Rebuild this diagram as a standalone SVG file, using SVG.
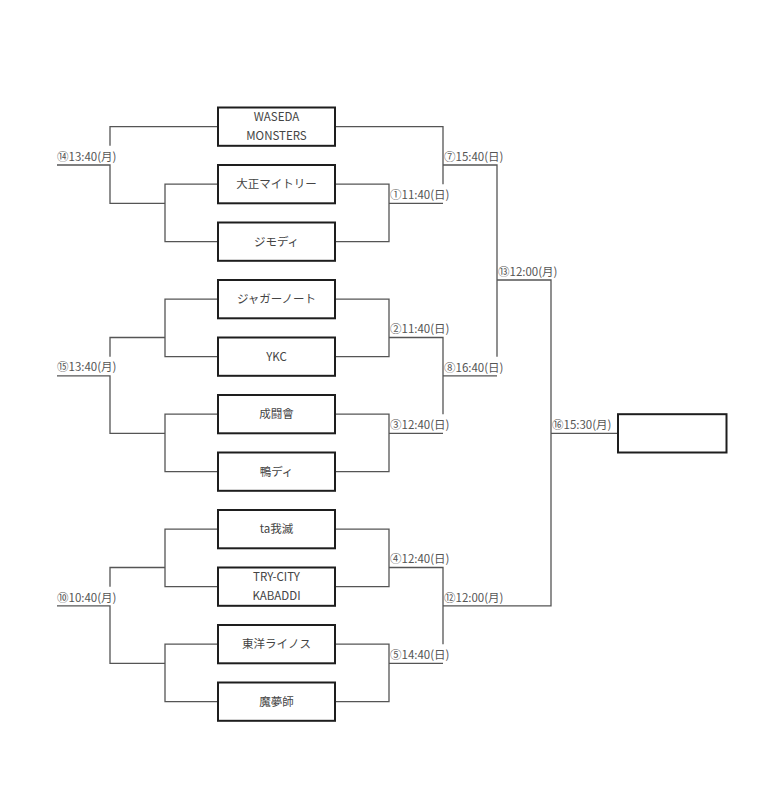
<svg xmlns="http://www.w3.org/2000/svg" width="779" height="803" viewBox="0 0 779 803">
<style>
.bg{fill:#ffffff}
.box{fill:#ffffff;stroke:#1e1e1e;stroke-width:2}
.ln{fill:none;stroke:#555555;stroke-width:1.3}
.t{font-family:"Noto Sans CJK JP","Noto Sans",sans-serif;font-size:11.5px;fill:#444444;text-anchor:middle}
.lbl{font-family:"Noto Sans CJK JP","Noto Sans",sans-serif;font-size:11.5px;fill:#555555}
</style>
<rect class="bg" x="0" y="0" width="779" height="803"/>
<g id="connectors">
<path class="ln" d="M218 126.7 H110 V145.8"/>
<path class="ln" d="M57 165 H110 V203.3 H165"/>
<path class="ln" d="M218 184.2 H165 V241.7 H218"/>
<path class="ln" d="M335 126.7 H443 V184.2"/>
<path class="ln" d="M443 165 H497 V356.7"/>
<path class="ln" d="M335 184.2 H389 V241.7 H335"/>
<path class="ln" d="M389 203.3 H443"/>
<path class="ln" d="M218 299.2 H165 V356.7 H218"/>
<path class="ln" d="M165 337.5 H110 V356.7"/>
<path class="ln" d="M57 375.8 H110 V433.3 H165"/>
<path class="ln" d="M218 414.2 H165 V471.7 H218"/>
<path class="ln" d="M335 299.2 H389 V356.7 H335"/>
<path class="ln" d="M389 337.5 H443 V414.2"/>
<path class="ln" d="M443 375.8 H497"/>
<path class="ln" d="M335 414.2 H389 V471.7 H335"/>
<path class="ln" d="M389 433.3 H443"/>
<path class="ln" d="M497 280 H551 V605.8 H443"/>
<path class="ln" d="M551 433.3 H618"/>
<path class="ln" d="M218 529.2 H165 V586.7 H218"/>
<path class="ln" d="M165 567.5 H110 V586.7"/>
<path class="ln" d="M57 605.8 H110 V663.3 H165"/>
<path class="ln" d="M218 644.2 H165 V701.7 H218"/>
<path class="ln" d="M335 529.2 H389 V586.7 H335"/>
<path class="ln" d="M389 567.5 H443 V644.2"/>
<path class="ln" d="M335 644.2 H389 V701.7 H335"/>
<path class="ln" d="M389 663.3 H443"/>
</g>
<g id="labels">
<text class="lbl" x="57" y="161">⑭13:40(月)</text>
<text class="lbl" x="57" y="371">⑮13:40(月)</text>
<text class="lbl" x="57" y="602">⑩10:40(月)</text>
<text class="lbl" x="390" y="199">①11:40(日)</text>
<text class="lbl" x="444" y="161">⑦15:40(日)</text>
<text class="lbl" x="390" y="333">②11:40(日)</text>
<text class="lbl" x="444" y="372">⑧16:40(日)</text>
<text class="lbl" x="390" y="429">③12:40(日)</text>
<text class="lbl" x="498" y="276">⑬12:00(月)</text>
<text class="lbl" x="552" y="429">⑯15:30(月)</text>
<text class="lbl" x="390" y="563">④12:40(日)</text>
<text class="lbl" x="444" y="602">⑫12:00(月)</text>
<text class="lbl" x="390" y="659">⑤14:40(日)</text>
</g>
<g id="team-waseda"><rect class="box" x="218" y="107.5" width="117" height="38.3"/><text class="t" x="276.5" y="121">WASEDA</text><text class="t" x="276.5" y="139.5">MONSTERS</text></g>
<g id="team-taisho"><rect class="box" x="218" y="165" width="117" height="38.3"/><text class="t" x="276.5" y="188.3">大正マイトリー</text></g>
<g id="team-jimody"><rect class="box" x="218" y="222.5" width="117" height="38.3"/><text class="t" x="276.5" y="245.8">ジモディ</text></g>
<g id="team-juggernaut"><rect class="box" x="218" y="280" width="117" height="38.3"/><text class="t" x="276.5" y="303.3">ジャガーノート</text></g>
<g id="team-ykc"><rect class="box" x="218" y="337.5" width="117" height="38.3"/><text class="t" x="276.5" y="360.8">YKC</text></g>
<g id="team-seitokai"><rect class="box" x="218" y="395" width="117" height="38.3"/><text class="t" x="276.5" y="418.3">成闘會</text></g>
<g id="team-kamody"><rect class="box" x="218" y="452.5" width="117" height="38.3"/><text class="t" x="276.5" y="475.8">鴨ディ</text></g>
<g id="team-tagametsu"><rect class="box" x="218" y="510" width="117" height="38.3"/><text class="t" x="276.5" y="533.3">ta我滅</text></g>
<g id="team-trycity"><rect class="box" x="218" y="567.5" width="117" height="38.3"/><text class="t" x="276.5" y="581">TRY-CITY</text><text class="t" x="276.5" y="599.5">KABADDI</text></g>
<g id="team-toyo"><rect class="box" x="218" y="625" width="117" height="38.3"/><text class="t" x="276.5" y="648.3">東洋ライノス</text></g>
<g id="team-mamushi"><rect class="box" x="218" y="682.5" width="117" height="38.3"/><text class="t" x="276.5" y="705.8">魔夢師</text></g>
<g id="champion"><rect class="box" x="618" y="414.2" width="108.5" height="38.3"/></g>
</svg>
